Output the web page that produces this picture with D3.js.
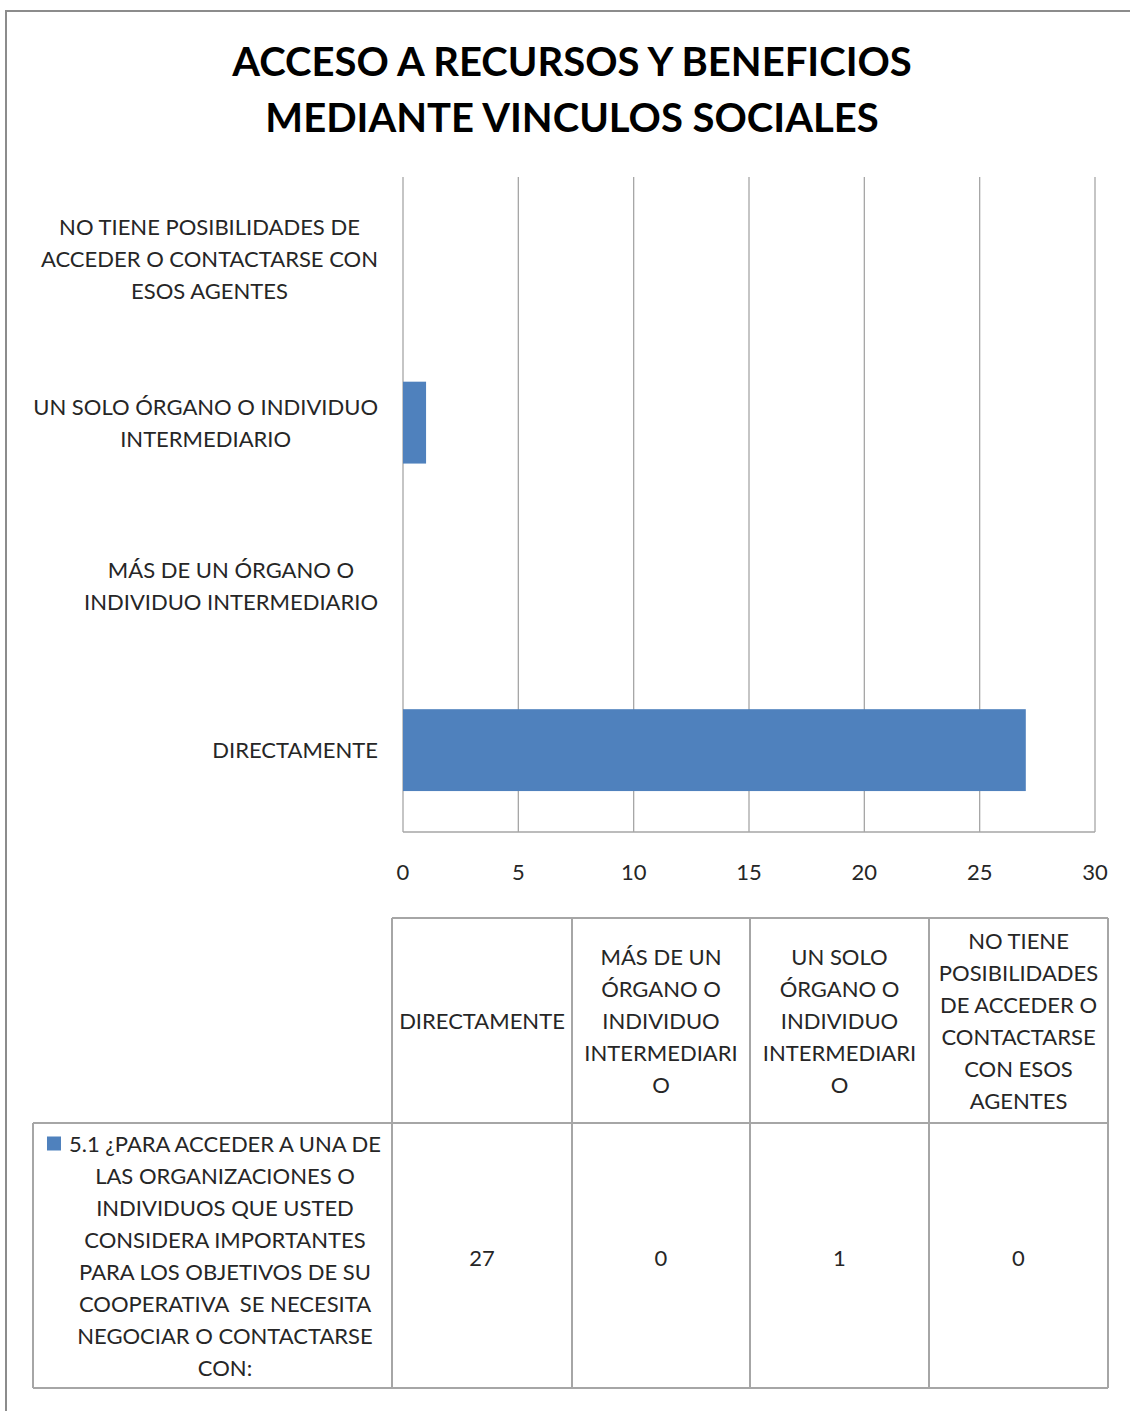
<!DOCTYPE html>
<html lang="es">
<head>
  <meta charset="UTF-8">
  <title>Acceso a recursos y beneficios</title>
  <style>
    body { margin: 0; background: #ffffff; }
    svg text { font-family: 'Lato', 'Open Sans', sans-serif; fill: #262626; }
  </style>
  <script src="https://d3js.org/d3.v7.min.js"></script>
</head>
<body>
  <svg id="chart" width="1130" height="1411"></svg>
  <script>
    // datos
    const categorias = ['DIRECTAMENTE', 'MÁS DE UN ÓRGANO O INDIVIDUO INTERMEDIARIO',
                        'UN SOLO ÓRGANO O INDIVIDUO INTERMEDIARIO',
                        'NO TIENE POSIBILIDADES DE ACCEDER O CONTACTARSE CON ESOS AGENTES'];
    const valores = [27, 0, 1, 0];
    const etiquetasEje = [
      ['DIRECTAMENTE'],
      ['MÁS DE UN ÓRGANO O', 'INDIVIDUO INTERMEDIARIO'],
      ['UN SOLO ÓRGANO O INDIVIDUO', 'INTERMEDIARIO'],
      ['NO TIENE POSIBILIDADES DE', 'ACCEDER O CONTACTARSE CON', 'ESOS AGENTES']
    ];
    const etiquetasTabla = [
      ['DIRECTAMENTE'],
      ['MÁS DE UN', 'ÓRGANO O', 'INDIVIDUO', 'INTERMEDIARI', 'O'],
      ['UN SOLO', 'ÓRGANO O', 'INDIVIDUO', 'INTERMEDIARI', 'O'],
      ['NO TIENE', 'POSIBILIDADES', 'DE ACCEDER O', 'CONTACTARSE', 'CON ESOS', 'AGENTES']
    ];
    const serieNombre = ['5.1 ¿PARA ACCEDER A UNA DE', 'LAS ORGANIZACIONES O', 'INDIVIDUOS QUE USTED',
                         'CONSIDERA IMPORTANTES', 'PARA LOS OBJETIVOS DE SU', 'COOPERATIVA  SE NECESITA',
                         'NEGOCIAR O CONTACTARSE', 'CON:'];
    const ticks = [0, 5, 10, 15, 20, 25, 30];
    const titulo = ['ACCESO A RECURSOS Y BENEFICIOS', 'MEDIANTE VINCULOS SOCIALES'];

    const AZUL = '#4f81bd', GRIS = '#a6a6a6', LH = 32, FS = 22;
    const svg = d3.select('#chart');

    // marco exterior
    svg.append('rect').attr('x', 6).attr('y', 11).attr('width', 1140).attr('height', 1420)
      .attr('fill', 'none').attr('stroke', '#8c8c8c').attr('stroke-width', 2);

    svg.selectAll('text.titulo').data(titulo).join('text')
      .attr('class', 'titulo')
      .attr('x', 572).attr('y', (d, i) => 76 + i * 56)
      .attr('text-anchor', 'middle')
      .style('font-size', '40px').style('font-weight', 'bold').style('fill', '#000')
      .text(d => d);

    const x = d3.scaleLinear().domain([0, 30]).range([403, 1095]);
    const y = d3.scaleBand().domain(categorias.slice().reverse()).range([177, 832])
      .paddingInner(0.5).paddingOuter(0.25);
    const plotTop = 177, plotBot = 832;

    // rejilla
    svg.append('g').selectAll('line').data(ticks).join('line')
      .attr('x1', d => x(d)).attr('x2', d => x(d))
      .attr('y1', plotTop).attr('y2', plotBot)
      .attr('stroke', GRIS).attr('stroke-width', 1.3);
    svg.append('line').attr('x1', x(0)).attr('x2', x(30)).attr('y1', plotBot).attr('y2', plotBot)
      .attr('stroke', GRIS).attr('stroke-width', 1.3);

    svg.append('g').selectAll('rect').data(valores).join('rect')
      .attr('x', x(0)).attr('y', (d, i) => y(categorias[i]))
      .attr('width', d => x(d) - x(0)).attr('height', y.bandwidth())
      .attr('fill', AZUL);

    svg.append('g').selectAll('text').data(ticks).join('text')
      .attr('x', d => x(d)).attr('y', 880).attr('text-anchor', 'middle')
      .style('font-size', FS + 'px').text(d => d);

    // etiquetas de categorias, centradas, borde derecho ~378
    etiquetasEje.forEach((lineas, i) => {
      const cy = y(categorias[i]) + y.bandwidth() / 2;
      const g = svg.append('g');
      const t = g.selectAll('text').data(lineas).join('text')
        .attr('y', (d, j) => cy + (j - (lineas.length - 1) / 2) * LH + 8)
        .attr('text-anchor', 'middle')
        .style('font-size', FS + 'px').text(d => d);
      const w = d3.max(t.nodes(), n => n.getComputedTextLength());
      t.attr('x', 378 - w / 2);
    });

    // tabla de datos
    const colX = [392, 572, 750, 929, 1108];
    const filaY = [918, 1123, 1388];
    const linea = (x1, y1, x2, y2) => svg.append('line').attr('x1', x1).attr('y1', y1)
      .attr('x2', x2).attr('y2', y2).attr('stroke', GRIS).attr('stroke-width', 2);
    colX.forEach(cx => linea(cx, filaY[0], cx, filaY[2]));
    linea(colX[0], filaY[0], colX[4], filaY[0]);
    linea(33, filaY[1], colX[4], filaY[1]);
    linea(33, filaY[2], colX[4], filaY[2]);
    linea(33, filaY[1], 33, filaY[2]);

    const cabCy = (filaY[0] + filaY[1]) / 2, datCy = (filaY[1] + filaY[2]) / 2;
    etiquetasTabla.forEach((lineas, i) => {
      const cx = (colX[i] + colX[i + 1]) / 2;
      svg.append('g').selectAll('text').data(lineas).join('text')
        .attr('x', cx).attr('y', (d, j) => cabCy + (j - (lineas.length - 1) / 2) * LH + 8)
        .attr('text-anchor', 'middle').style('font-size', FS + 'px').text(d => d);
    });
    svg.append('g').selectAll('text').data(valores).join('text')
      .attr('x', (d, i) => (colX[i] + colX[i + 1]) / 2).attr('y', datCy + 10)
      .attr('text-anchor', 'middle').style('font-size', FS + 'px').text(d => d);

    const ley = svg.append('g').selectAll('text').data(serieNombre).join('text')
      .attr('x', 225).attr('y', (d, j) => datCy + (j - (serieNombre.length - 1) / 2) * LH + 8)
      .attr('text-anchor', 'middle').style('font-size', FS + 'px')
      .style('white-space', 'pre').text(d => d);
    const l0 = ley.nodes()[0];
    const w0 = l0.getComputedTextLength();
    svg.append('rect').attr('x', 225 - w0 / 2 - 22).attr('y', +l0.getAttribute('y') - 15)
      .attr('width', 14).attr('height', 14).attr('fill', AZUL);
  </script>
</body>
</html>
